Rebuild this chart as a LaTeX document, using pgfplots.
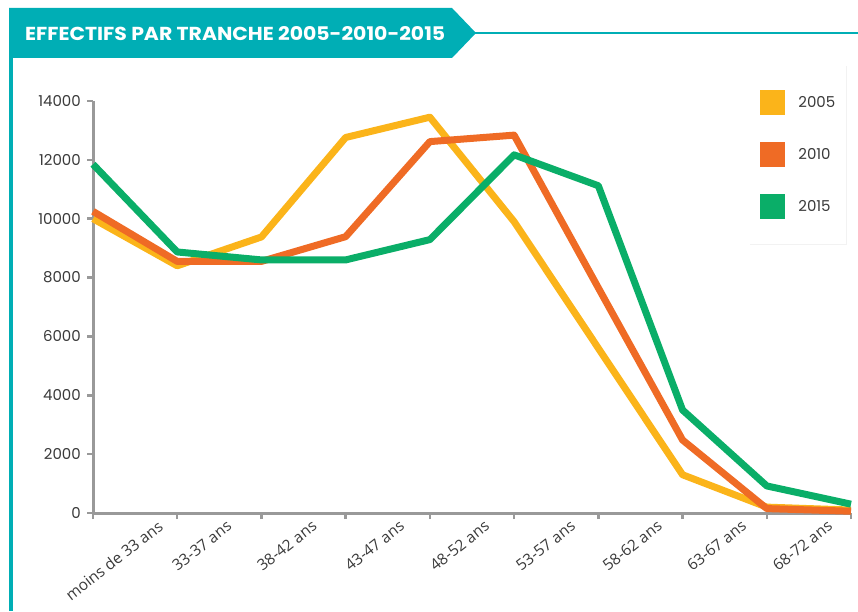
\documentclass[border=0pt]{standalone}
\usepackage{fontspec}
\setmainfont{Poppins}
\newfontfamily\opensans{Open Sans}
\usepackage{pgfplots}
\pgfplotsset{compat=1.18}
\usetikzlibrary{shadows}
\makeatletter
\tikzset{noshadow/.code={\let\tikz@preactions\pgfutil@empty}}
\makeatother
\definecolor{bannerteal}{HTML}{00AEB5}
\definecolor{c05}{HTML}{FBB41A}
\definecolor{c10}{HTML}{EF6B25}
\definecolor{c15}{HTML}{0AAE68}
\definecolor{axgray}{HTML}{999999}
\definecolor{txt}{HTML}{3A3A3A}
\begin{document}
\begin{tikzpicture}
\path[use as bounding box] (0,0) rectangle (858pt,611pt);
\fill[bannerteal] (9pt,603pt) -- (452pt,603pt) -- (476pt,578pt) -- (452pt,553pt) -- (9pt,553pt) -- cycle;
\draw[bannerteal, line width=2.5pt] (470pt,578pt) -- (858pt,578pt);
\fill[bannerteal] (9pt,0pt) rectangle (13pt,553pt);
\node[anchor=base west, inner sep=0pt, text=white] at (25pt,570pt) {\resizebox{420pt}{14pt}{\bfseries EFFECTIFS PAR TRANCHE 2005-2010-2015}};
\begin{axis}[
  at={(93pt,98pt)}, anchor=south west,
  scale only axis, width=758pt, height=412pt,
  xmin=0, xmax=9, ymin=0, ymax=14000,
  clip=false,
  axis x line*=bottom, axis y line*=left,
  axis line style={axgray, line width=3pt, -},
  tick style={axgray, line width=2.5pt},
  major tick length=6pt, tick align=outside,
  xtick={0,1,...,9}, xticklabels={},
  extra x ticks={0.70,1.52,2.53,3.57,4.58,5.60,6.63,7.63,8.65},
  extra x tick labels={moins de 33 ans,33-37 ans,38-42 ans,43-47 ans,48-52 ans,53-57 ans,58-62 ans,63-67 ans,68-72 ans},
  extra x tick style={major tick length=0pt, tick style={draw=none},
    xticklabel style={rotate=38, anchor=north east, inner sep=0pt, yshift=-8pt,
      font=\opensans\fontsize{15.5}{18}\selectfont, text=txt}},
  ytick={0,2000,...,14000},
  scaled y ticks=false,
  yticklabel style={font=\fontsize{15}{18}\selectfont, text=txt, inner sep=0pt, xshift=-6pt},
  /pgf/number format/1000 sep={},
  /pgf/number format/assume math mode=true,
  legend style={at={(0.865,1.087)}, anchor=north west, draw=none, fill=white,
    drop shadow={opacity=0.10, shadow xshift=1pt, shadow yshift=-1pt},
    inner xsep=11pt, inner ysep=25pt, row sep=27pt,
    font=\fontsize{15}{18}\selectfont, text=txt,
    nodes={inner sep=0pt, noshadow}},
  legend cell align=left,
  legend image code/.code={\fill[#1, draw=none, sharp corners, noshadow] (0pt,-12.5pt) rectangle (25pt,12.5pt); \path[noshadow] (35pt,0pt);},
]
\addplot[c05, line width=7pt, line join=round] coordinates {(0,10000)(1,8400)(2,9380)(3,12760)(4,13450)(5,9900)(6,5600)(7,1300)(8,200)(9,100)};
\addlegendentry{2005}
\addplot[c10, line width=7pt, line join=round] coordinates {(0,10250)(1,8550)(2,8550)(3,9390)(4,12620)(5,12840)(6,7650)(7,2480)(8,150)(9,60)};
\addlegendentry{2010}
\addplot[c15, line width=7pt, line join=round] coordinates {(0,11850)(1,8870)(2,8600)(3,8600)(4,9290)(5,12170)(6,11120)(7,3500)(8,920)(9,300)};
\addlegendentry{2015}
\end{axis}
\end{tikzpicture}
\end{document}
